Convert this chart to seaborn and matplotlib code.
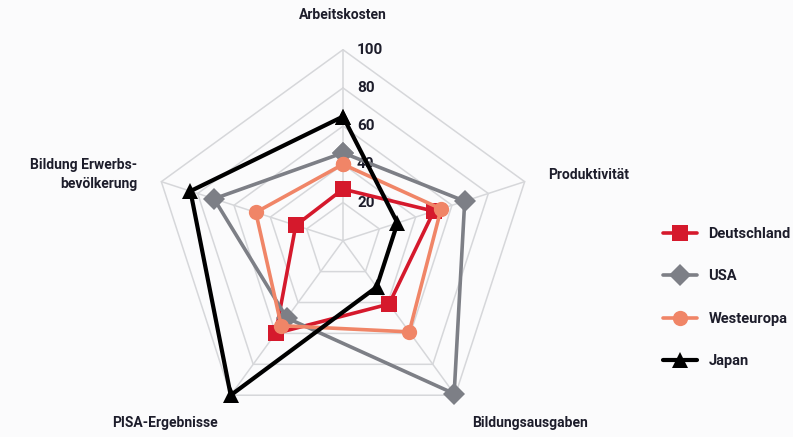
import numpy as np
import pandas as pd
import matplotlib
matplotlib.use("Agg")
import matplotlib.pyplot as plt
import seaborn as sns

categories = ["Arbeitskosten", "Produktivität", "Bildungsausgaben",
              "PISA-Ergebnisse", "Bildung Erwerbs-\nbevölkerung"]
countries = ["Deutschland", "USA", "Westeuropa", "Japan"]
deutschland = [27, 50, 41, 60, 26]
usa = [46, 67, 99, 50, 71]
westeuropa = [40, 54, 59, 55, 48]
japan = [65, 30, 30, 100, 84]
radial_ticks = [20, 40, 60, 80, 100]

series = {"Deutschland": deutschland, "USA": usa,
          "Westeuropa": westeuropa, "Japan": japan}
colors = {"Deutschland": "#d5192c", "USA": "#7d7f86",
          "Westeuropa": "#f08567", "Japan": "#000000"}
markers = {"Deutschland": "s", "USA": "D", "Westeuropa": "o", "Japan": "^"}

n = len(categories)
angles = np.linspace(0, 2 * np.pi, n, endpoint=False)

rows = []
for c in countries:
    vals = series[c]
    for i in range(n + 1):
        k = i % n
        rows.append({"country": c, "theta": angles[k] if i < n else 2 * np.pi,
                     "value": vals[k], "order": i})
df = pd.DataFrame(rows)

sns.set_theme(style="white")
plt.rcParams["font.family"] = ["Roboto", "DejaVu Sans"]
txt_color = "#1d1d2b"

fig = plt.figure(figsize=(7.93, 4.37), dpi=100)
fig.patch.set_facecolor("#fbfbfc")
cx, cy, R = 343, 437 - 240.7, 191
ax = fig.add_axes([(cx - R) / 793, (cy - R) / 437, 2 * R / 793, 2 * R / 437],
                  projection="polar")
ax.set_facecolor("none")
ax.set_theta_offset(np.pi / 2)
ax.set_theta_direction(-1)
ax.set_ylim(0, 100)
ax.grid(False)
ax.spines["polar"].set_visible(False)
ax.set_xticks([])
ax.set_yticks([])

grid_c = "#d6d7da"
closed = np.append(angles, angles[0])
for r in radial_ticks:
    ax.plot(closed, [r] * (n + 1), color=grid_c, lw=1.1, zorder=1)
for a in angles:
    ax.plot([a, a], [0, 100], color=grid_c, lw=1.1, zorder=1)

for c in countries:
    sub = df[df.country == c]
    sns.lineplot(data=sub, x="theta", y="value", sort=False, ax=ax,
                 color=colors[c], marker=markers[c],
                 markersize=10 if c != "USA" else 9,
                 markeredgewidth=0, lw=3 if c == "Japan" else 2.6,
                 label=c, zorder=3, estimator=None)
for ln in ax.lines:
    ln.set_clip_on(False)

for r in radial_ticks:
    ax.annotate(str(r), xy=(0, r), xytext=(14, 0), textcoords="offset pixels",
                ha="left", va="center", fontsize=11, fontweight="bold",
                color=txt_color, zorder=2)

label_offsets = [(0, 35, "center"), (23, 7, "left"), (75, -28, "center"),
                 (-66, -28, "center"), (-24, 7, "right")]
for a, lab, (dx, dy, ha) in zip(angles, categories, label_offsets):
    ax.annotate(lab, xy=(a, 100), xytext=(dx, dy), textcoords="offset pixels",
                ha=ha, va="center", fontsize=10, fontweight="bold",
                color=txt_color, linespacing=1.45,
                annotation_clip=False)

handles, labels = ax.get_legend_handles_labels()
for h in handles:
    h.set_markersize(11)
ax.get_legend().remove()
fig.legend(handles, labels, loc="center left",
           bbox_to_anchor=(650 / 793, 1 - 297.5 / 437), frameon=False,
           labelspacing=1.95, handlelength=2.3, handletextpad=0.8,
           prop={"size": 10.5, "weight": "bold", "family": ["Roboto", "DejaVu Sans"]},
           labelcolor=txt_color)

fig.savefig("out.png", dpi=100, facecolor=fig.get_facecolor())
